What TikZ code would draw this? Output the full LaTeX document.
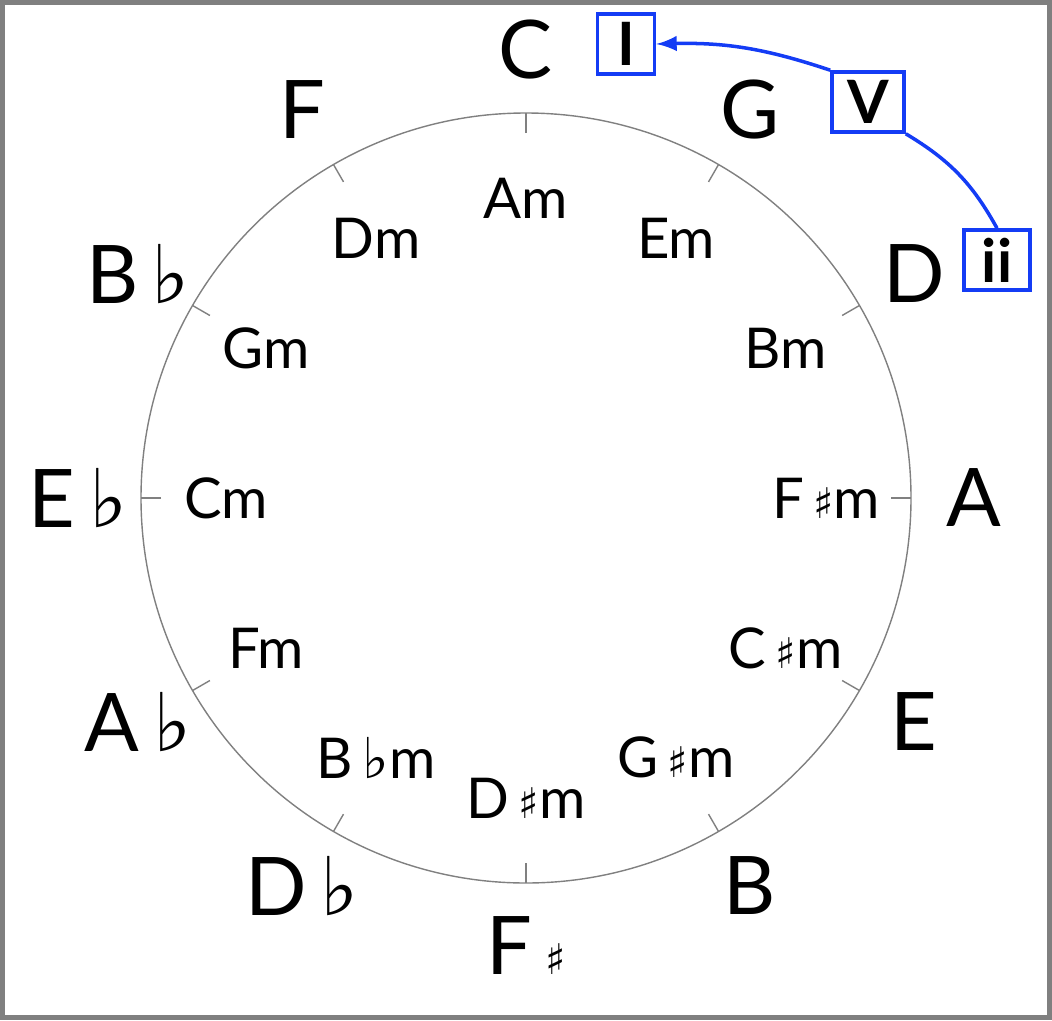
\documentclass[tikz,border=0pt]{standalone}
\usepackage{fontspec}
\setmainfont{Lato}
\newfontfamily\symfont{DejaVu Sans}
\usetikzlibrary{calc}
\definecolor{degblue}{RGB}{20,60,245}
\newcommand{\fl}{\,{\symfont ♭}}
\newcommand{\sh}{\,{\symfont\large ♯}}
\tikzset{
  major/.style={font=\fontsize{23}{25}\selectfont},
  minor/.style={font=\fontsize{16}{18}\selectfont},
  degbox/.style={draw=degblue, line width=1pt, minimum width=0.57cm, minimum height=0.6cm, inner sep=0pt, font=\bfseries\fontsize{17}{18}\selectfont},
  degarrow/.style={draw=degblue, line width=1pt}
}
\begin{document}
\begin{tikzpicture}[x=0.01cm,y=0.01cm]
			\useasboundingbox (0,0) rectangle (1052,1020);
			\draw[gray, line width=0.05cm] (2.5,2.5) rectangle (1049.5,1017.5);
			
			\coordinate (O) at (526,522);
			\draw[gray, line width=0.4pt] (O) circle (385);
			
			\foreach \maj/\mn [count=\i from 0] in {C/Am, G/Em, D/Bm, A/F\sh m, E/C\sh m, B/G\sh m, F\sh/D\sh m, D\fl/B\fl m, A\fl/Fm, E\fl/Cm, B\fl/Gm, F/Dm}{
				\pgfmathsetmacro{\ang}{90-30*\i}
				\draw[gray, line width=0.4pt] ($(O)+(\ang:365)$) -- ($(O)+(\ang:385)$);
				\node[major] (maj\i) at ($(O)+(\ang:448)$) {\maj};
				\node[minor] (min\i) at ($(O)+(\ang:300)$) {\mn};
			}
			
			\node[degbox] (one) at (626,976) {I};
			\node[degbox, minimum width=0.72cm] (five) at (868,918) {V};
			\node[degbox, minimum width=0.66cm] (two) at (997,760) {ii};
			
			\draw[degarrow] (two.north) to[bend right=15] (five.south east);
			\draw[degarrow, -latex] (five.north west) to[bend right=10] (one.east);
\end{tikzpicture}
\end{document}
